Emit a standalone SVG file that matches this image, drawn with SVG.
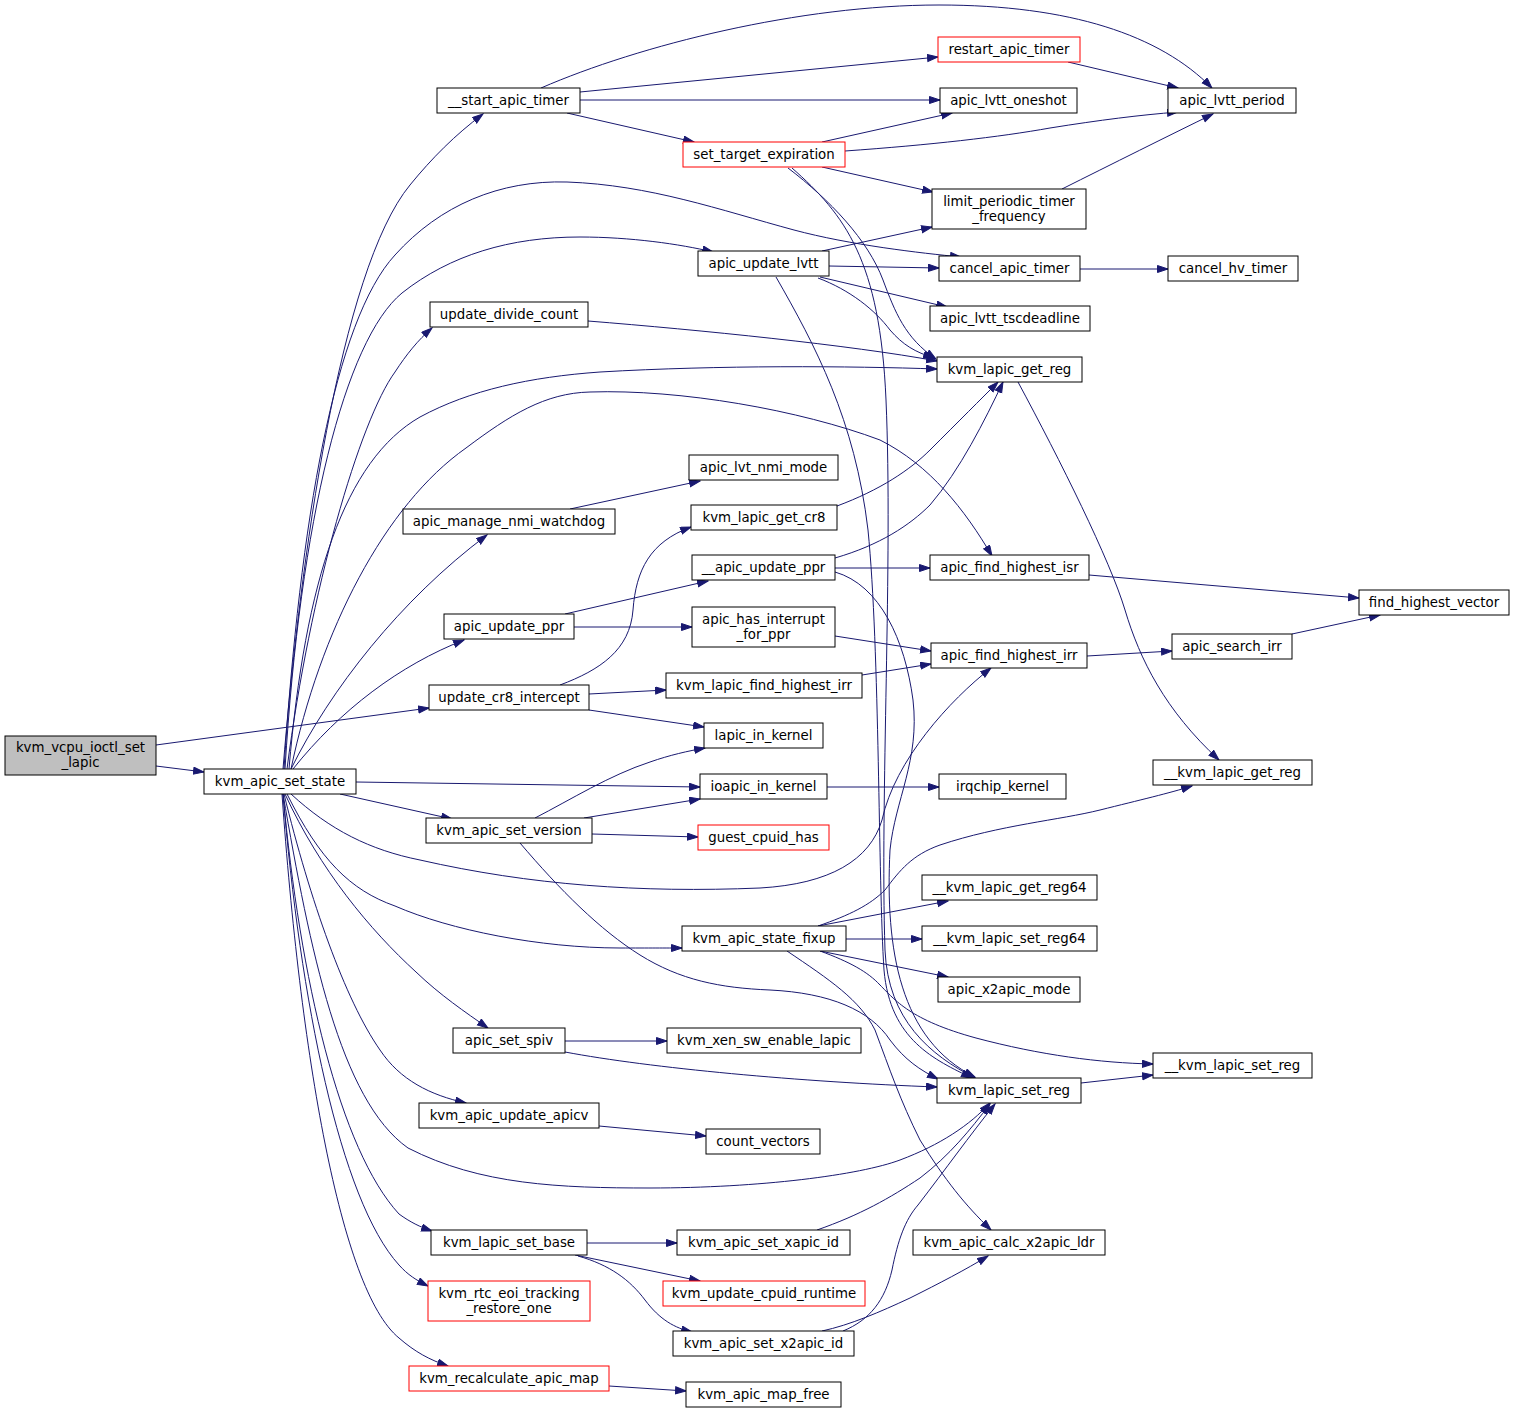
<svg xmlns="http://www.w3.org/2000/svg" width="1515" height="1414" viewBox="0 0 1515 1414">
<style>
.n rect{fill:#fff;stroke:#000;stroke-width:1}
.r rect{stroke:#f00}
.g rect{fill:#bfbfbf;stroke:#000}
text{font-family:"DejaVu Sans","Liberation Sans",sans-serif;font-size:13.33px;text-anchor:middle;fill:#000}
#edges path{fill:none;stroke:#191970;stroke-width:1;marker-end:url(#a)}
</style>
<defs>
<marker id="a" markerUnits="userSpaceOnUse" markerWidth="12" markerHeight="9" refX="11" refY="4" orient="auto">
<path d="M0.5,0.5 L11,4 L0.5,7.5 z" fill="#191970" stroke="#191970" stroke-width="1"/>
</marker>
</defs>
<rect width="1515" height="1414" fill="#fff"/>
<g id="edges">
<path d="M156,766 L204,772"/>
<path d="M156,745 L429,708"/>
<path d="M283,769 C 300,560 340,270 410,185 C 432,158 455,135 483,114"/>
<path d="M284,769 C 300,520 335,320 395,255 C 440,205 500,180 567,182 C 650,185 720,210 794,230 C 850,245 920,253 961,257"/>
<path d="M285,769 C 300,520 345,340 402,293 C 450,255 510,237 580,237 C 630,237 680,244 713,252"/>
<path d="M287,769 C 310,590 360,420 395,372 C 406,355 418,340 432,328"/>
<path d="M289,769 C 305,580 345,460 420,417 C 470,390 530,377 600,372 C 720,365 850,366 937,369"/>
<path d="M291,769 C 320,630 385,505 466,448 C 510,415 545,393 590,392 C 680,389 800,410 880,440 C 930,465 965,510 992,556"/>
<path d="M291,769 C 330,690 400,600 487,535"/>
<path d="M293,769 C 340,710 400,665 464,640"/>
<path d="M356,782 L700,787"/>
<path d="M340,794 L452,819"/>
<path d="M291,794 C 330,830 370,850 420,860 C 530,885 640,893 760,888 C 830,884 870,860 882,820 C 895,760 950,700 991,668"/>
<path d="M287,794 C 320,860 350,890 395,906 C 450,930 540,948 620,948 C 650,948 665,948 682,948"/>
<path d="M285,794 C 320,870 370,930 416,972 C 440,995 465,1012 488,1028"/>
<path d="M284,794 C 310,900 345,1000 380,1050 C 400,1080 430,1095 466,1103"/>
<path d="M283,794 C 310,950 340,1100 408,1148 C 480,1185 560,1188 650,1188 C 760,1188 860,1175 900,1160 C 940,1145 970,1125 990,1103"/>
<path d="M283,794 C 300,980 340,1150 399,1214 C 410,1222 420,1227 432,1231"/>
<path d="M283,794 C 300,1000 340,1200 399,1265 C 408,1275 416,1280 428,1286"/>
<path d="M282,794 C 300,1050 340,1290 399,1338 C 415,1352 430,1360 448,1366"/>
<path d="M541,88 C 640,45 800,5 939,5 C 1070,5 1160,35 1212,88"/>
<path d="M580,92 L938,57"/>
<path d="M580,100 L940,100"/>
<path d="M567,113 L694,142"/>
<path d="M1068,62 L1178,88"/>
<path d="M822,142 L952,113"/>
<path d="M845,151 C 930,145 1000,137 1050,128 C 1100,120 1140,115 1178,112"/>
<path d="M822,167 L933,192"/>
<path d="M788,168 C 830,200 868,240 883,280 C 895,312 905,338 936,359"/>
<path d="M792,168 C 845,215 880,260 886,400 C 893,560 880,800 885,950 C 888,1020 930,1055 975,1078"/>
<path d="M1062,189 C 1110,165 1170,135 1213,114"/>
<path d="M822,251 L932,227"/>
<path d="M829,266 L939,268"/>
<path d="M820,277 L947,307"/>
<path d="M818,278 C 850,290 875,310 890,330 C 903,345 915,352 934,358"/>
<path d="M776,277 C 815,345 855,420 868,530 C 880,650 878,880 884,970 C 890,1040 935,1060 972,1078"/>
<path d="M1080,269 L1168,269"/>
<path d="M588,321 C 700,330 850,345 937,361"/>
<path d="M1018,382 C 1060,460 1110,560 1125,610 C 1140,660 1165,710 1219,760"/>
<path d="M570,509 L700,481"/>
<path d="M837,506 C 880,490 910,470 930,450 C 960,420 980,400 998,382"/>
<path d="M835,558 C 880,545 910,525 930,505 C 960,470 985,420 1003,382"/>
<path d="M835,568 L930,568"/>
<path d="M835,572 C 880,585 905,640 913,700 C 920,760 895,800 890,850 C 885,950 900,1040 975,1077"/>
<path d="M1089,575 L1359,598"/>
<path d="M565,614 L708,581"/>
<path d="M574,627 L692,627"/>
<path d="M835,636 L931,651"/>
<path d="M1087,656 L1172,651"/>
<path d="M1292,634 L1380,615"/>
<path d="M560,685 C 600,670 630,650 633,610 C 636,570 650,542 691,527"/>
<path d="M589,694 L666,690"/>
<path d="M589,710 L704,727"/>
<path d="M862,675 L931,664"/>
<path d="M827,787 L939,787"/>
<path d="M535,818 C 570,800 610,775 650,762 C 670,755 688,751 705,748"/>
<path d="M584,818 L700,799"/>
<path d="M592,834 L698,837"/>
<path d="M520,843 C 560,890 600,930 640,955 C 680,980 720,988 770,990 C 830,993 870,1010 890,1040 C 905,1060 920,1070 938,1079"/>
<path d="M818,926 C 850,915 870,905 885,890 C 900,870 912,855 940,845 C 1000,825 1060,820 1100,810 C 1140,800 1170,793 1192,786"/>
<path d="M818,926 L948,901"/>
<path d="M846,939 L922,939"/>
<path d="M820,951 L948,977"/>
<path d="M820,951 C 850,962 868,972 880,985 C 895,1000 910,1020 976,1038 C 1040,1055 1100,1063 1153,1064"/>
<path d="M787,951 C 830,980 860,1000 875,1030 C 890,1070 900,1100 920,1140 C 945,1180 965,1205 991,1230"/>
<path d="M565,1041 L667,1041"/>
<path d="M565,1052 C 650,1068 800,1082 937,1087"/>
<path d="M1081,1083 L1153,1075"/>
<path d="M599,1126 L706,1136"/>
<path d="M587,1243 L677,1243"/>
<path d="M575,1255 L700,1281"/>
<path d="M578,1256 C 610,1265 630,1280 645,1300 C 660,1320 675,1328 692,1332"/>
<path d="M817,1230 C 860,1215 890,1198 920,1178 C 950,1155 970,1130 990,1104"/>
<path d="M822,1331 C 850,1325 880,1312 910,1298 C 940,1283 965,1270 988,1256"/>
<path d="M843,1331 C 870,1320 885,1300 892,1270 C 898,1240 905,1220 918,1205 C 945,1170 970,1135 995,1104"/>
<path d="M609,1386 L686,1391"/>
</g>
<g id="kvm_vcpu_ioctl_set_lapic" class="n g"><rect x="5" y="736" width="151" height="39"/><text x="80.5" y="752">kvm_vcpu_ioctl_set</text><text x="80.5" y="767">_lapic</text></g>
<g id="kvm_apic_set_state" class="n"><rect x="204" y="769" width="152" height="25"/><text x="280" y="786">kvm_apic_set_state</text></g>
<g id="__start_apic_timer" class="n"><rect x="437" y="88" width="143" height="25"/><text x="508.5" y="105">__start_apic_timer</text></g>
<g id="restart_apic_timer" class="n r"><rect x="938" y="37" width="142" height="25"/><text x="1009" y="54">restart_apic_timer</text></g>
<g id="apic_lvtt_oneshot" class="n"><rect x="940" y="88" width="137" height="25"/><text x="1008.5" y="105">apic_lvtt_oneshot</text></g>
<g id="apic_lvtt_period" class="n"><rect x="1168" y="88" width="128" height="25"/><text x="1232" y="105">apic_lvtt_period</text></g>
<g id="set_target_expiration" class="n r"><rect x="683" y="142" width="162" height="25"/><text x="764" y="159">set_target_expiration</text></g>
<g id="limit_periodic_timer_frequency" class="n"><rect x="932" y="189" width="154" height="40"/><text x="1009" y="206">limit_periodic_timer</text><text x="1009" y="221">_frequency</text></g>
<g id="apic_update_lvtt" class="n"><rect x="698" y="251" width="131" height="25"/><text x="763.5" y="268">apic_update_lvtt</text></g>
<g id="cancel_apic_timer" class="n"><rect x="939" y="256" width="141" height="25"/><text x="1009.5" y="273">cancel_apic_timer</text></g>
<g id="cancel_hv_timer" class="n"><rect x="1168" y="256" width="130" height="25"/><text x="1233" y="273">cancel_hv_timer</text></g>
<g id="apic_lvtt_tscdeadline" class="n"><rect x="930" y="306" width="160" height="25"/><text x="1010" y="323">apic_lvtt_tscdeadline</text></g>
<g id="update_divide_count" class="n"><rect x="430" y="302" width="158" height="25"/><text x="509" y="319">update_divide_count</text></g>
<g id="kvm_lapic_get_reg" class="n"><rect x="937" y="357" width="145" height="25"/><text x="1009.5" y="374">kvm_lapic_get_reg</text></g>
<g id="apic_lvt_nmi_mode" class="n"><rect x="689" y="455" width="149" height="25"/><text x="763.5" y="472">apic_lvt_nmi_mode</text></g>
<g id="apic_manage_nmi_watchdog" class="n"><rect x="403" y="509" width="212" height="25"/><text x="509" y="526">apic_manage_nmi_watchdog</text></g>
<g id="kvm_lapic_get_cr8" class="n"><rect x="691" y="505" width="146" height="25"/><text x="764" y="522">kvm_lapic_get_cr8</text></g>
<g id="__apic_update_ppr" class="n"><rect x="692" y="555" width="143" height="25"/><text x="763.5" y="572">__apic_update_ppr</text></g>
<g id="apic_find_highest_isr" class="n"><rect x="930" y="555" width="159" height="25"/><text x="1009.5" y="572">apic_find_highest_isr</text></g>
<g id="find_highest_vector" class="n"><rect x="1359" y="590" width="150" height="25"/><text x="1434" y="607">find_highest_vector</text></g>
<g id="apic_update_ppr" class="n"><rect x="444" y="614" width="130" height="25"/><text x="509" y="631">apic_update_ppr</text></g>
<g id="apic_has_interrupt_for_ppr" class="n"><rect x="692" y="607" width="143" height="40"/><text x="763.5" y="624">apic_has_interrupt</text><text x="763.5" y="639">_for_ppr</text></g>
<g id="apic_find_highest_irr" class="n"><rect x="931" y="643" width="156" height="25"/><text x="1009" y="660">apic_find_highest_irr</text></g>
<g id="apic_search_irr" class="n"><rect x="1172" y="634" width="120" height="25"/><text x="1232" y="651">apic_search_irr</text></g>
<g id="update_cr8_intercept" class="n"><rect x="429" y="685" width="160" height="25"/><text x="509" y="702">update_cr8_intercept</text></g>
<g id="kvm_lapic_find_highest_irr" class="n"><rect x="666" y="673" width="196" height="25"/><text x="764" y="690">kvm_lapic_find_highest_irr</text></g>
<g id="lapic_in_kernel" class="n"><rect x="704" y="723" width="119" height="25"/><text x="763.5" y="740">lapic_in_kernel</text></g>
<g id="ioapic_in_kernel" class="n"><rect x="700" y="774" width="127" height="25"/><text x="763.5" y="791">ioapic_in_kernel</text></g>
<g id="irqchip_kernel" class="n"><rect x="939" y="774" width="127" height="25"/><text x="1002.5" y="791">irqchip_kernel</text></g>
<g id="__kvm_lapic_get_reg" class="n"><rect x="1153" y="760" width="159" height="25"/><text x="1232.5" y="777">__kvm_lapic_get_reg</text></g>
<g id="kvm_apic_set_version" class="n"><rect x="426" y="818" width="166" height="25"/><text x="509" y="835">kvm_apic_set_version</text></g>
<g id="guest_cpuid_has" class="n r"><rect x="698" y="825" width="131" height="25"/><text x="763.5" y="842">guest_cpuid_has</text></g>
<g id="__kvm_lapic_get_reg64" class="n"><rect x="922" y="875" width="175" height="25"/><text x="1009.5" y="892">__kvm_lapic_get_reg64</text></g>
<g id="kvm_apic_state_fixup" class="n"><rect x="682" y="926" width="164" height="25"/><text x="764" y="943">kvm_apic_state_fixup</text></g>
<g id="__kvm_lapic_set_reg64" class="n"><rect x="922" y="926" width="175" height="25"/><text x="1009.5" y="943">__kvm_lapic_set_reg64</text></g>
<g id="apic_x2apic_mode" class="n"><rect x="938" y="977" width="142" height="25"/><text x="1009" y="994">apic_x2apic_mode</text></g>
<g id="apic_set_spiv" class="n"><rect x="453" y="1028" width="112" height="25"/><text x="509" y="1045">apic_set_spiv</text></g>
<g id="kvm_xen_sw_enable_lapic" class="n"><rect x="667" y="1028" width="194" height="25"/><text x="764" y="1045">kvm_xen_sw_enable_lapic</text></g>
<g id="__kvm_lapic_set_reg" class="n"><rect x="1153" y="1053" width="159" height="25"/><text x="1232.5" y="1070">__kvm_lapic_set_reg</text></g>
<g id="kvm_lapic_set_reg" class="n"><rect x="937" y="1078" width="144" height="25"/><text x="1009" y="1095">kvm_lapic_set_reg</text></g>
<g id="kvm_apic_update_apicv" class="n"><rect x="419" y="1103" width="180" height="25"/><text x="509" y="1120">kvm_apic_update_apicv</text></g>
<g id="count_vectors" class="n"><rect x="706" y="1129" width="114" height="25"/><text x="763" y="1146">count_vectors</text></g>
<g id="kvm_lapic_set_base" class="n"><rect x="431" y="1230" width="156" height="25"/><text x="509" y="1247">kvm_lapic_set_base</text></g>
<g id="kvm_apic_set_xapic_id" class="n"><rect x="677" y="1230" width="173" height="25"/><text x="763.5" y="1247">kvm_apic_set_xapic_id</text></g>
<g id="kvm_apic_calc_x2apic_ldr" class="n"><rect x="913" y="1230" width="192" height="25"/><text x="1009" y="1247">kvm_apic_calc_x2apic_ldr</text></g>
<g id="kvm_update_cpuid_runtime" class="n r"><rect x="663" y="1281" width="202" height="25"/><text x="764" y="1298">kvm_update_cpuid_runtime</text></g>
<g id="kvm_rtc_eoi_tracking_restore_one" class="n r"><rect x="428" y="1281" width="162" height="40"/><text x="509" y="1298">kvm_rtc_eoi_tracking</text><text x="509" y="1313">_restore_one</text></g>
<g id="kvm_apic_set_x2apic_id" class="n"><rect x="673" y="1331" width="181" height="25"/><text x="763.5" y="1348">kvm_apic_set_x2apic_id</text></g>
<g id="kvm_recalculate_apic_map" class="n r"><rect x="409" y="1366" width="200" height="25"/><text x="509" y="1383">kvm_recalculate_apic_map</text></g>
<g id="kvm_apic_map_free" class="n"><rect x="686" y="1382" width="155" height="25"/><text x="763.5" y="1399">kvm_apic_map_free</text></g>
</svg>
